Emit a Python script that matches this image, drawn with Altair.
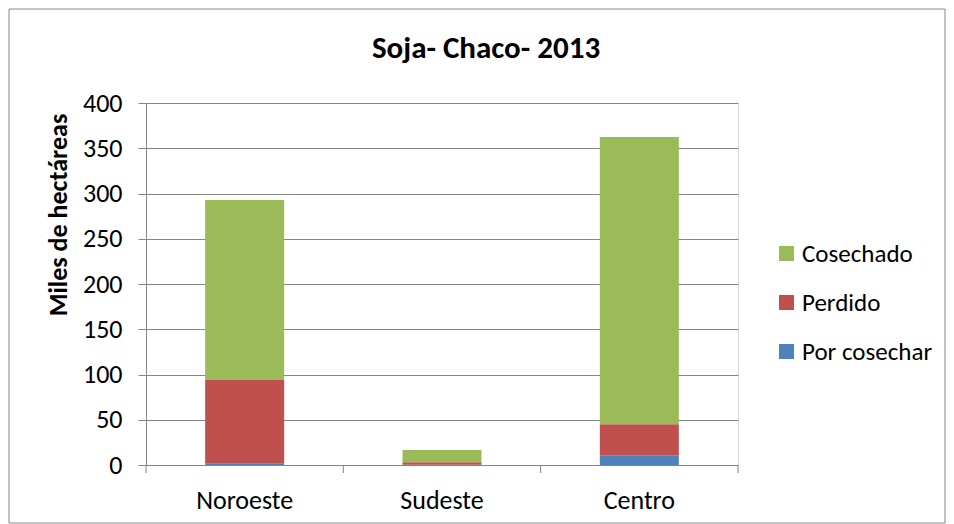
import altair as alt
import pandas as pd

regiones = ["Noroeste", "Sudeste", "Centro"]
por_cosechar = [1.5, 0.3, 10.7]
perdido = [92.5, 2.7, 34.3]
cosechado = [198.8, 13.5, 317.4]
series = ["Cosechado", "Perdido", "Por cosechar"]
colores = ["#9BBB59", "#C0504D", "#4F81BD"]
orden_pila = {"Por cosechar": 0, "Perdido": 1, "Cosechado": 2}
titulo = "Soja- Chaco- 2013"
titulo_y = "Miles  de hectáreas"

rows = []
for i, r in enumerate(regiones):
    for s, vals in (("Por cosechar", por_cosechar), ("Perdido", perdido), ("Cosechado", cosechado)):
        rows.append({"Región": r, "Serie": s, "Valor": vals[i], "orden": orden_pila[s]})
df = pd.DataFrame(rows)
one = pd.DataFrame({"t": [titulo], "ty": [titulo_y]})

FONT = "Carlito, Lato, sans-serif"
GREY = "#868686"
W, H = 592, 362
PL, PT, PR, PB = 138, 95, 208, 59

xscale = alt.Scale(paddingInner=0, paddingOuter=0)

bars = alt.Chart(df).mark_bar(size=79).encode(
    x=alt.X("Región:N", sort=regiones, title=None, scale=xscale,
            axis=alt.Axis(labelAngle=0, ticks=False, domainColor=GREY,
                          labelFontSize=26, labelColor="#000000", labelFont=FONT,
                          labelPadding=22)),
    y=alt.Y("Valor:Q", title=None,
            scale=alt.Scale(domain=[0, 400], nice=False),
            axis=alt.Axis(values=list(range(0, 401, 50)), tickSize=8,
                          grid=True, gridColor=GREY, gridWidth=1,
                          domainColor=GREY, tickColor=GREY,
                          labelFontSize=26, labelColor="#000000", labelPadding=16,
                          labelFont=FONT)),
    color=alt.Color("Serie:N", sort=series,
                    scale=alt.Scale(domain=series, range=colores),
                    legend=alt.Legend(title=None, orient="none", legendX=628, legendY=138,
                                      symbolType="square", symbolSize=225, symbolStrokeWidth=0,
                                      labelFontSize=25, labelColor="#000000", labelFont=FONT,
                                      rowPadding=23, labelOffset=3)),
    order=alt.Order("orden:Q", sort="ascending"),
)

ticks = alt.Chart(pd.DataFrame({"Región": regiones})).mark_rule(color=GREY).encode(
    x=alt.X("Región:N", sort=regiones, bandPosition=0, scale=xscale),
    y=alt.value(H), y2=alt.value(H + 8),
)

end_tick = alt.Chart(one).mark_rule(color=GREY).encode(
    x=alt.value(W), y=alt.value(H), y2=alt.value(H + 8)
)

border = alt.Chart(one).mark_rect(fill=None, stroke=GREY, strokeWidth=1).encode(
    x=alt.value(-PL + 1), x2=alt.value(W + PR - 1),
    y=alt.value(-PT + 1), y2=alt.value(H + PB - 1)
)

title_mark = alt.Chart(one).mark_text(
    font=FONT, fontSize=31, fontWeight="bold", color="#000000",
    align="center", baseline="alphabetic"
).encode(text="t:N", x=alt.value(340), y=alt.value(-45))

ytitle_mark = alt.Chart(one).mark_text(
    font=FONT, fontSize=26, fontWeight="bold", color="#000000",
    align="center", baseline="middle", angle=270
).encode(text="ty:N", x=alt.value(-87), y=alt.value(112))

chart = alt.layer(border, bars, ticks, end_tick, title_mark, ytitle_mark).properties(
    width=W, height=H,
    autosize=alt.AutoSizeParams(type="none"),
    padding={"left": PL, "top": PT, "right": PR, "bottom": PB},
).configure_view(stroke=None).configure(font=FONT)

chart.save("out.html", embed_options={"renderer": "svg", "actions": False})
